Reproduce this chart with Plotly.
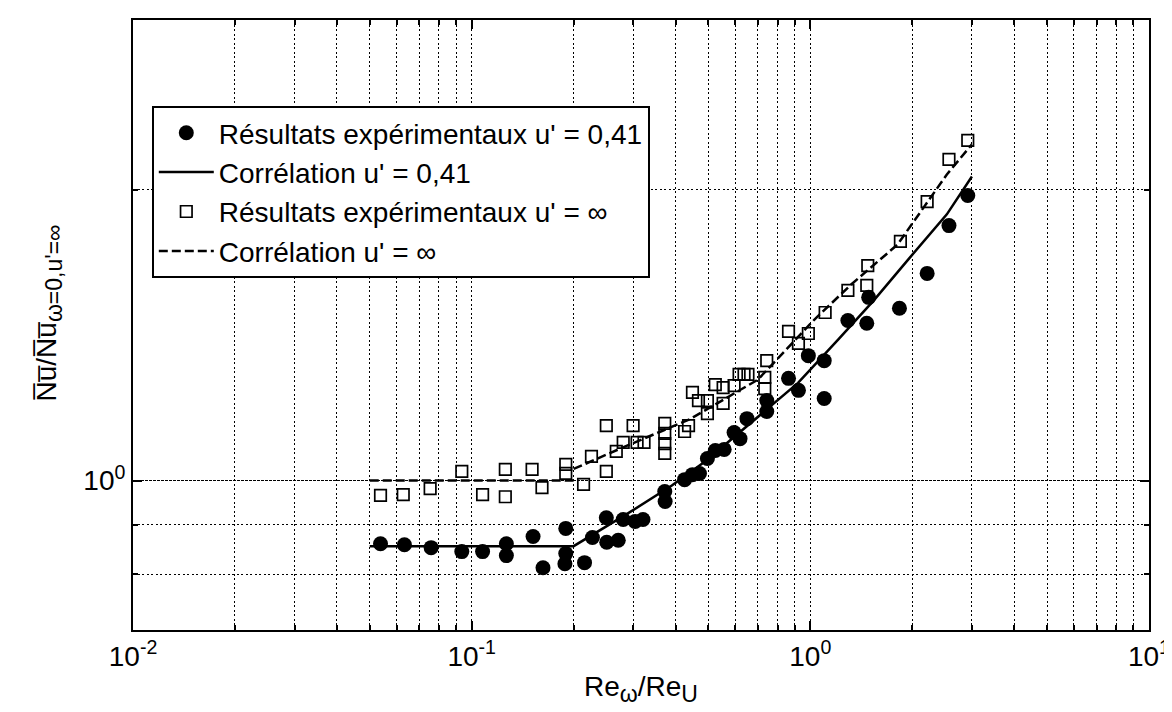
import plotly.graph_objects as go

# Experimental results u' = 0,41 (filled circles)
exp041_x = [0.0538, 0.0633, 0.0759, 0.0935, 0.1077, 0.1266, 0.1266, 0.1518, 0.1624, 0.1896,
            0.1896, 0.1885, 0.2154, 0.2273, 0.2498, 0.2505, 0.2709, 0.2802, 0.3038, 0.3205,
            0.3717, 0.3726, 0.4253, 0.4487, 0.4706, 0.4967, 0.5241, 0.5567, 0.5955, 0.6200,
            0.6499, 0.7436, 0.7436, 0.8622, 0.9224, 0.9867, 1.099, 1.099, 1.291, 1.468,
            1.487, 1.833, 2.213, 2.567, 2.917]
exp041_y = [0.860, 0.858, 0.852, 0.844, 0.844, 0.860, 0.836, 0.875, 0.812, 0.892,
            0.840, 0.820, 0.822, 0.873, 0.915, 0.863, 0.867, 0.911, 0.907, 0.911,
            0.974, 0.951, 1.002, 1.014, 1.017, 1.054, 1.074, 1.077, 1.121, 1.105,
            1.159, 1.210, 1.179, 1.276, 1.240, 1.347, 1.331, 1.216, 1.465, 1.455,
            1.548, 1.508, 1.639, 1.837, 1.974]

# Correlation u' = 0,41 (solid line)
corr041_x = [0.05, 0.2, 0.29, 0.39, 0.49, 0.72, 0.92, 1.21, 1.54, 1.97, 2.53, 3.0]
corr041_y = [0.855, 0.855, 0.925, 0.988, 1.047, 1.175, 1.262, 1.400, 1.537, 1.703, 1.887, 2.065]

# Experimental results u' = infinity (open squares)
expinf_x = [0.0538, 0.0628, 0.0754, 0.0935, 0.1077, 0.1257, 0.1257, 0.1508, 0.1613, 0.1896,
            0.1896, 0.2140, 0.2258, 0.2498, 0.2498, 0.2673, 0.2802, 0.2997, 0.3079, 0.3228,
            0.3717, 0.3717, 0.3717, 0.3717, 0.4253, 0.4369, 0.4487, 0.4674, 0.4967, 0.4967,
            0.5241, 0.5527, 0.5527, 0.5955, 0.6161, 0.6371, 0.6544, 0.7436, 0.7337, 0.7337,
            0.8622, 0.9224, 0.9867, 1.106, 1.291, 1.478, 1.468, 1.845, 2.213, 2.567, 2.917]
expinf_y = [0.965, 0.967, 0.981, 1.022, 0.967, 1.027, 0.962, 1.027, 0.983, 1.039,
            1.017, 0.991, 1.059, 1.140, 1.022, 1.072, 1.095, 1.140, 1.095, 1.095,
            1.146, 1.119, 1.092, 1.067, 1.124, 1.140, 1.234, 1.210, 1.210, 1.173,
            1.257, 1.248, 1.202, 1.254, 1.288, 1.288, 1.288, 1.331, 1.279, 1.245,
            1.427, 1.387, 1.420, 1.493, 1.574, 1.670, 1.593, 1.769, 1.945, 2.151, 2.251]

# Correlation u' = infinity (dashed line); None splits the flat and rising branches
corrinf_x = [0.05, 0.2, None, 0.2, 0.29, 0.44, 0.70, 1.03, 1.32, 1.81, 2.53, 3.0]
corrinf_y = [1.0, 1.0, None, 1.028, 1.088, 1.157, 1.272, 1.469, 1.596, 1.756, 2.075, 2.23]

x_major = [0.01, 0.1, 1, 10]
x_major_text = ["10<sup>-2</sup>", "10<sup>-1</sup>", "10<sup>0</sup>", "10<sup>1</sup>"]
x_minor = [k * d for d in (0.01, 0.1, 1) for k in range(2, 10)]
y_major = [1]
y_major_text = ["10<sup>0</sup>"]
y_minor = [0.7, 0.8, 0.9, 2, 3]

legend_names = ["Résultats expérimentaux u' = 0,41", "Corrélation u' = 0,41",
                "Résultats expérimentaux u' = ∞", "Corrélation u' = ∞"]

FONT = "Arial, Liberation Sans, sans-serif"
FS = 28
SUB = '<sub><span style="font-size:23px">{}</span></sub>'
GRID_DASH = "2px,2.5px"

x_title = "Re" + SUB.format("ω") + "/Re" + SUB.format("U")
y_title = "N\u0305u\u0305/N\u0305u\u0305" + SUB.format("ω=0,u'=∞")

fig = go.Figure()
fig.add_trace(go.Scatter(x=exp041_x, y=exp041_y, mode="markers", name=legend_names[0],
                         marker=dict(symbol="circle", size=15, color="black", line=dict(width=0))))
fig.add_trace(go.Scatter(x=corr041_x, y=corr041_y, mode="lines", name=legend_names[1],
                         line=dict(color="black", width=2.5)))
fig.add_trace(go.Scatter(x=expinf_x, y=expinf_y, mode="markers", name=legend_names[2],
                         marker=dict(symbol="square-open", size=11.5, color="black",
                                     line=dict(width=1.7, color="black"))))
fig.add_trace(go.Scatter(x=corrinf_x, y=corrinf_y, mode="lines", name=legend_names[3],
                         connectgaps=False,
                         line=dict(color="black", width=2.5, dash="9px,4px")))

axis_common = dict(
    showline=True, linecolor="black", linewidth=2, mirror="allticks",
    ticks="inside", ticklen=9, tickwidth=1.5, tickcolor="black",
    showgrid=True, gridcolor="black", gridwidth=1.4, griddash=GRID_DASH,
    zeroline=False, automargin=False, ticklabeloverflow="allow",
    tickfont=dict(family=FONT, size=FS, color="black"),
)

fig.update_xaxes(type="log", range=[-2.0001, 1.0001], tickmode="array", tickvals=x_major,
                 ticktext=x_major_text,
                 minor=dict(tickmode="array", tickvals=x_minor, ticks="inside", ticklen=5,
                            tickcolor="black", showgrid=True, gridcolor="black",
                            gridwidth=1.4, griddash=GRID_DASH),
                 title=dict(text=x_title,
                            font=dict(family=FONT, size=FS, color="black"), standoff=6),
                 **axis_common)
fig.update_yaxes(type="log", range=[-0.15490, 0.47712], tickmode="array", tickvals=y_major,
                 ticktext=y_major_text,
                 minor=dict(tickmode="array", tickvals=y_minor, ticks="inside", ticklen=5,
                            tickcolor="black", showgrid=True, gridcolor="black",
                            gridwidth=1.4, griddash=GRID_DASH),
                 **axis_common)
fig.update_yaxes(griddash="3px,1px")

fig.add_annotation(text=y_title, textangle=-90,
                   xref="paper", yref="paper", x=-0.083, y=0.52, xanchor="center",
                   yanchor="middle", showarrow=False,
                   font=dict(family=FONT, size=FS, color="black"))

fig.update_layout(
    width=1172, height=712, autosize=False,
    paper_bgcolor="white", plot_bgcolor="white",
    margin=dict(l=125, r=31, t=12, b=90),
    font=dict(family=FONT, size=FS, color="black"),
    showlegend=True,
    legend=dict(x=0.0185, y=0.859, xanchor="left", yanchor="top",
                bgcolor="white", bordercolor="black", borderwidth=2,
                font=dict(family=FONT, size=FS, color="black"),
                itemwidth=55, tracegroupgap=0),
)

fig.write_html("out.html")
